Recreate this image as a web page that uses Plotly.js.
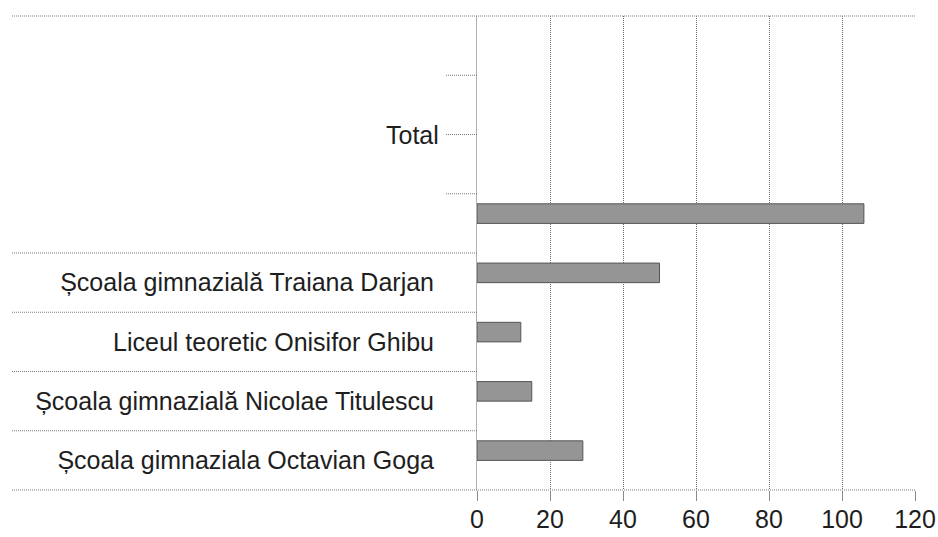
<!DOCTYPE html>
<html>
<head>
<meta charset="utf-8">
<script src="https://cdn.plot.ly/plotly-3.0.1.min.js"></script>
<style>html,body{margin:0;padding:0;background:#fff;}#chart{width:938px;height:537px;}</style>
</head>
<body>
<div id="chart"></div>
<script>
// Rows listed top to bottom as they appear in the chart
const groupLabel = "Total";
const totalSubLabels = ["", "", "", ""];          // blank sub-categories under "Total"
const totalSubValues = [null, null, null, 106];
const schoolNames = [
  "Școala gimnazială Traiana Darjan",
  "Liceul teoretic Onisifor Ghibu",
  "Școala gimnazială Nicolae Titulescu",
  "Școala gimnaziala Octavian Goga"
];
const schoolValues = [50, 12, 15, 29];
const xTicks = [0, 20, 40, 60, 80, 100, 120];

// Build bottom-to-top category list (unique keys for the blank sub-rows)
const topDown = totalSubLabels.map((t, i) => "sub" + (i + 1)).concat(schoolNames);
const topDownVals = totalSubValues.concat(schoolValues);
const cats = topDown.slice().reverse();
const vals = topDownVals.slice().reverse();
const n = cats.length;
const nTotal = totalSubLabels.length;

const FONT = "Liberation Sans, Arial, sans-serif";
const plotLeft = 477, plotW = 438;
const px2paper = p => (p - plotLeft) / plotW;
const bnd = b => (b + 0.5) / n; // boundary (category units) -> paper y

const shapes = [];
const dotted = {color: "#7a7a7a", width: 1, dash: "1px,1px"};
// outer boundaries (long lines across the label area)
const outer = [];
for (let b = -0.5; b <= n - nTotal - 0.5; b += 1) outer.push(b);
outer.push(n - 0.5);
outer.forEach(b => {
  const full = (b === -0.5 || b === n - 0.5);
  shapes.push({type: "line", xref: "paper", yref: "paper",
    x0: px2paper(12), x1: full ? 1 : 0, y0: bnd(b), y1: bnd(b), line: dotted, layer: "above"});
});
// inner boundaries within the "Total" group (short ticks)
for (let k = 1; k < nTotal; k++) {
  const b = n - nTotal - 0.5 + k;
  shapes.push({type: "line", xref: "paper", yref: "paper",
    x0: px2paper(446), x1: 0, y0: bnd(b), y1: bnd(b), line: dotted, layer: "above"});
}

const trace = {
  type: "bar", orientation: "h",
  x: vals, y: cats,
  width: 0.33, offset: 0,
  marker: {color: "#959595", line: {color: "#555", width: 1}},
  hoverinfo: "x+y"
};

const layout = {
  width: 938, height: 537,
  margin: {l: 477, r: 23, t: 16, b: 47, pad: 0},
  paper_bgcolor: "#fff", plot_bgcolor: "#fff",
  showlegend: false,
  font: {family: FONT, size: 25, color: "#1e1e1e"},
  xaxis: {
    range: [0, 120], tickvals: xTicks, ticktext: xTicks.map(String),
    showgrid: true, gridcolor: "#6e6e6e", griddash: "1px,1px", gridwidth: 1,
    zeroline: false, showline: false,
    ticks: "outside", ticklen: 10, tickcolor: "#8a8a8a",
    ticklabelstandoff: -3,
    tickfont: {family: FONT, size: 25, color: "#1e1e1e"}, fixedrange: true
  },
  yaxis: {
    type: "category", categoryorder: "array", categoryarray: cats,
    range: [-0.5, n - 0.5],
    tickmode: "array", tickvals: schoolNames, ticktext: schoolNames,
    showgrid: false, zeroline: false,
    showline: true, linecolor: "#b0b0b0", linewidth: 1,
    ticks: "", ticklabelstandoff: 37,
    tickfont: {family: FONT, size: 25, color: "#1e1e1e"}, fixedrange: true
  },
  shapes: shapes,
  annotations: [{
    text: groupLabel, xref: "paper", yref: "paper",
    x: px2paper(441), y: (bnd(n - nTotal - 0.5) + bnd(n - 0.5)) / 2,
    xanchor: "right", yanchor: "middle", showarrow: false,
    font: {family: FONT, size: 25, color: "#1e1e1e"}
  }]
};

Plotly.newPlot("chart", [trace], layout, {displayModeBar: false, staticPlot: true});
</script>
</body>
</html>
